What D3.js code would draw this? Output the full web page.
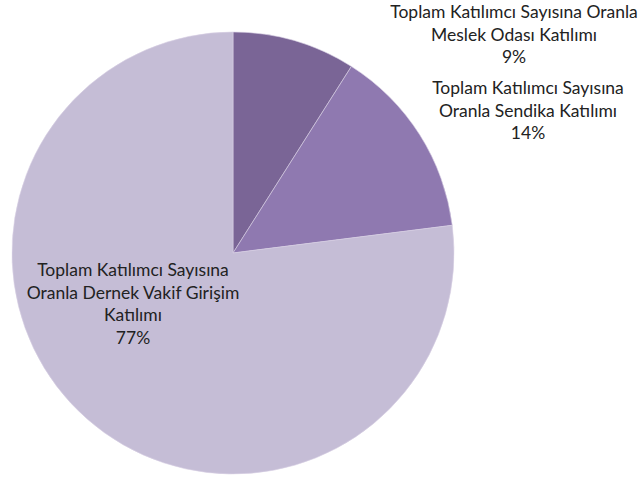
<!DOCTYPE html>
<html>
<head>
<meta charset="utf-8">
<script src="https://cdn.jsdelivr.net/npm/d3@7"></script>
<style>
  body { margin: 0; background: #fff; }
  text { font-family: Lato, "Open Sans", sans-serif; fill: #222; }
</style>
</head>
<body>
<script>
// chart data
var labels = [
  ['Toplam Katılımcı Sayısına Oranla', 'Meslek Odası Katılımı'],
  ['Toplam Katılımcı Sayısına', 'Oranla Sendika Katılımı'],
  ['Toplam Katılımcı Sayısına', 'Oranla Dernek Vakif Girişim', 'Katılımı']
];
var values = [9, 14, 77];
var colors = ['#7a6596', '#8f79b0', '#c5bdd6'];

var width = 642, height = 482;
var cx = 233, cy = 253, radius = 221;

// first-line centre of each data label, relative to the pie centre
var labelPos = [[281, -241], [295, -165], [-100, 17]];
var lineH = 22.7;

var svg = d3.select('body').append('svg')
  .attr('width', width)
  .attr('height', height);

var g = svg.append('g')
  .attr('transform', 'translate(' + cx + ',' + cy + ')');

var pie = d3.pie().sort(null).value(function(d) { return d; });
var arc = d3.arc().innerRadius(0).outerRadius(radius);

var arcs = pie(values);

g.selectAll('path')
  .data(arcs)
  .enter().append('path')
  .attr('d', arc)
  .attr('fill', function(d, i) { return colors[i]; })
  .attr('stroke', '#d8d0e4')
  .attr('stroke-width', 0.6);

var lab = g.selectAll('.lbl')
  .data(arcs)
  .enter().append('text')
  .attr('class', 'lbl')
  .attr('text-anchor', 'middle')
  .style('font-size', '17.5px');

lab.each(function(d, i) {
  var t = d3.select(this);
  var lines = labels[i].concat([d.value + '%']);
  lines.forEach(function(s, k) {
    t.append('tspan')
      .attr('x', labelPos[i][0])
      .attr('y', labelPos[i][1] + k * lineH + 6)
      .text(s);
  });
});
</script>
</body>
</html>
